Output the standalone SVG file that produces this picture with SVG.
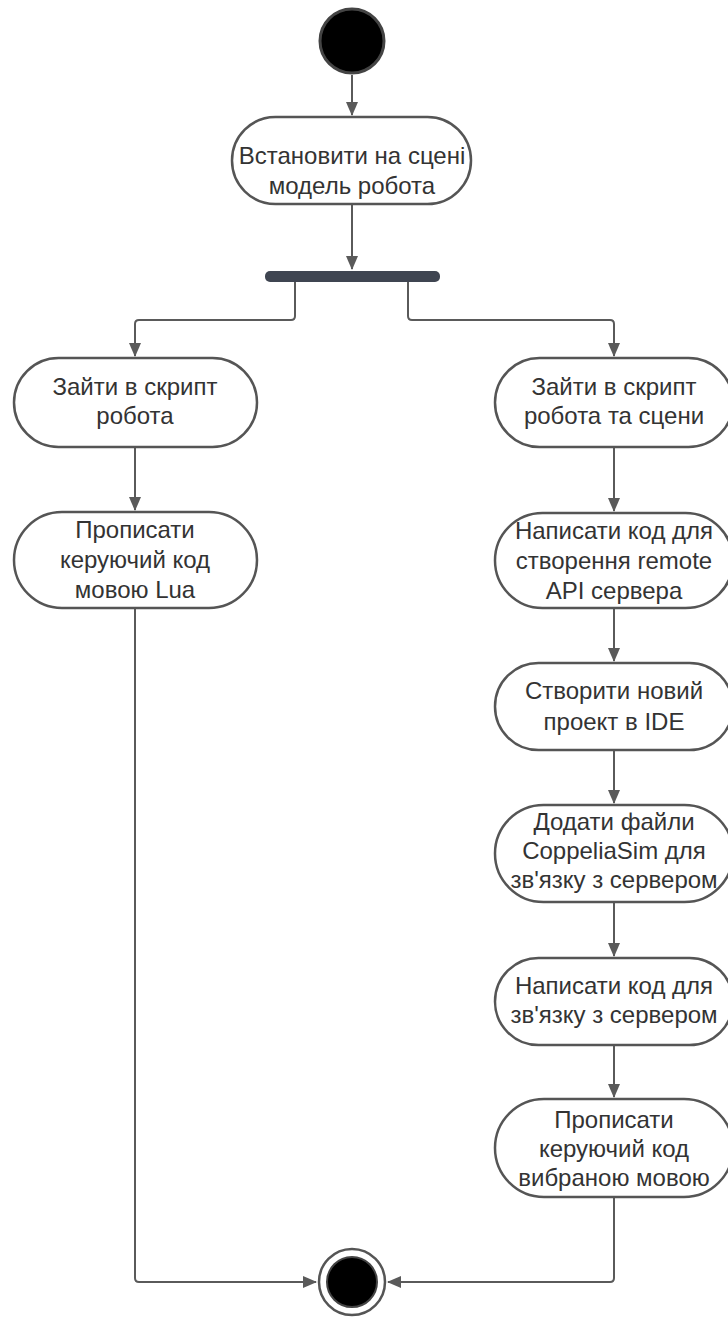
<svg xmlns="http://www.w3.org/2000/svg" width="728" height="1318" viewBox="0 0 728 1318">
<style>
.n{fill:#fff;stroke:#555;stroke-width:2.5}
.t{font-family:"Liberation Sans",Arial,sans-serif;font-size:24px;fill:#333;text-anchor:middle}
.c{fill:none;stroke:#5a5a5a;stroke-width:2;stroke-linejoin:round}
</style>
<defs>
<marker id="a" viewBox="0 0 14 12" refX="13" refY="6" markerWidth="14" markerHeight="12" markerUnits="userSpaceOnUse" orient="auto">
<path d="M0,0 L14,6 L0,12 Z" fill="#5a5a5a"/>
</marker>
</defs>
<rect width="728" height="1318" fill="#fff"/>
<g id="connectors">
<path class="c" d="M352,75 V115" marker-end="url(#a)"/>
<path class="c" d="M352,205 V269" marker-end="url(#a)"/>
<path class="c" d="M295,282 V316 Q295,320 291,320 H139 Q135,320 135,324 V356" marker-end="url(#a)"/>
<path class="c" d="M408,282 V316 Q408,320 412,320 H610 Q614,320 614,324 V356" marker-end="url(#a)"/>
<path class="c" d="M135,448 V510" marker-end="url(#a)"/>
<path class="c" d="M614,448 V511" marker-end="url(#a)"/>
<path class="c" d="M614,609 V661" marker-end="url(#a)"/>
<path class="c" d="M614,751 V803" marker-end="url(#a)"/>
<path class="c" d="M614,903 V956" marker-end="url(#a)"/>
<path class="c" d="M614,1046 V1097" marker-end="url(#a)"/>
<path class="c" d="M135,609 V1278 Q135,1282 139,1282 H316" marker-end="url(#a)"/>
<path class="c" d="M614,1198 V1278 Q614,1282 610,1282 H388" marker-end="url(#a)"/>
</g>
<g id="start"><circle cx="352" cy="41" r="32" fill="#000" stroke="#444" stroke-width="3"/></g>
<g id="n1"><rect class="n" x="232" y="117" width="239" height="87" rx="43.5"/>
<text class="t" x="352" y="164">Встановити на сцені</text><text class="t" x="352" y="194">модель робота</text></g>
<g id="fork"><rect x="265" y="271" width="175" height="11" rx="5" fill="#3f4551"/></g>
<g id="l1"><rect class="n" x="14" y="358" width="243" height="89" rx="44.5"/>
<text class="t" x="135" y="395">Зайти в скрипт</text><text class="t" x="135" y="424">робота</text></g>
<g id="l2"><rect class="n" x="14" y="512" width="243" height="96" rx="48"/>
<text class="t" x="135" y="538">Прописати</text><text class="t" x="135" y="568">керуючий код</text><text class="t" x="135" y="598">мовою Lua</text></g>
<g id="r1"><rect class="n" x="495" y="358" width="238" height="89" rx="44.5"/>
<text class="t" x="614" y="395">Зайти в скрипт</text><text class="t" x="614" y="424">робота та сцени</text></g>
<g id="r2"><rect class="n" x="495" y="513" width="238" height="95" rx="47.5"/>
<text class="t" x="614" y="539">Написати код для</text><text class="t" x="614" y="569">створення remote</text><text class="t" x="614" y="599">API сервера</text></g>
<g id="r3"><rect class="n" x="495" y="663" width="238" height="87" rx="43.5"/>
<text class="t" x="614" y="699">Створити новий</text><text class="t" x="614" y="730">проект в IDE</text></g>
<g id="r4"><rect class="n" x="495" y="805" width="238" height="97" rx="48.5"/>
<text class="t" x="614" y="830">Додати файли</text><text class="t" x="614" y="859">CoppeliaSim для</text><text class="t" x="614" y="888">зв'язку з сервером</text></g>
<g id="r5"><rect class="n" x="495" y="958" width="238" height="87" rx="43.5"/>
<text class="t" x="614" y="994">Написати код для</text><text class="t" x="614" y="1023">зв'язку з сервером</text></g>
<g id="r6"><rect class="n" x="495" y="1099" width="238" height="98" rx="49"/>
<text class="t" x="614" y="1128">Прописати</text><text class="t" x="614" y="1157">керуючий код</text><text class="t" x="614" y="1186">вибраною мовою</text></g>
<g id="end"><circle cx="352" cy="1282" r="33" fill="#fff" stroke="#555" stroke-width="2.5"/><circle cx="352" cy="1282" r="25" fill="#000" stroke="#444" stroke-width="2"/></g>
</svg>
